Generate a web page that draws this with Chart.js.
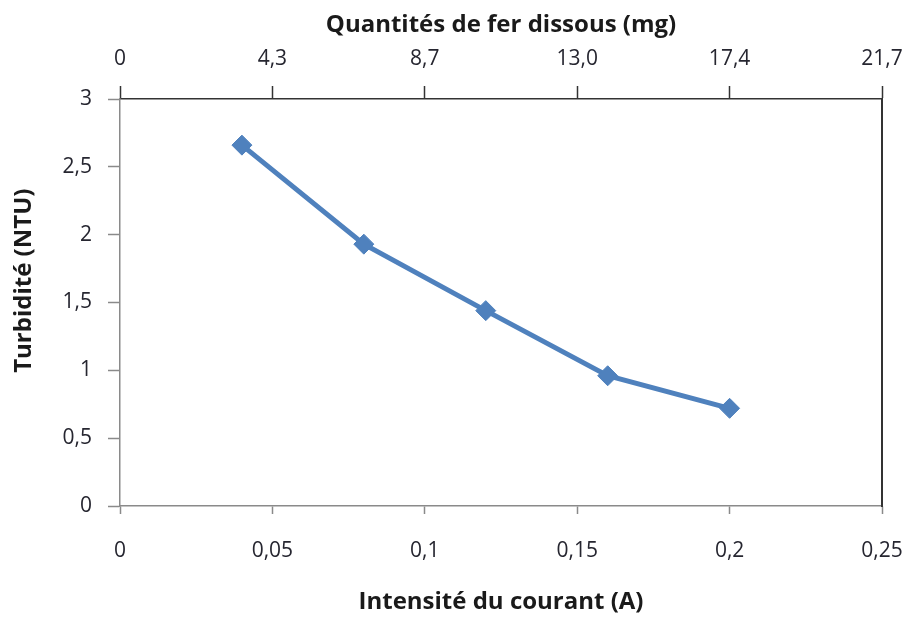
<!DOCTYPE html>
<html>
<head>
<meta charset="utf-8">
<script src="https://cdn.jsdelivr.net/npm/chart.js@4.4.1/dist/chart.umd.min.js"></script>
<style>
  html, body { margin: 0; padding: 0; background: #ffffff; }
  #wrap { width: 910px; height: 617px; }
</style>
</head>
<body>
<div id="wrap"><canvas id="c" width="910" height="617"></canvas></div>
<script>
// Current intensity (A) and measured turbidity (NTU)
const intensite = [0.04, 0.08, 0.12, 0.16, 0.20];
const turbidite = [2.66, 1.93, 1.44, 0.96, 0.72];
// Dissolved iron quantities shown on the top axis (mg)
const ferLabels = ['0', '4,3', '8,7', '13,0', '17,4', '21,7'];

const FONT = "'Open Sans', 'DejaVu Sans', sans-serif";
const TICK_COLOR = '#262630';
const TITLE_COLOR = '#1a1a1a';
const comma = v => String(Math.round(v * 1000) / 1000).replace('.', ',');

// Horizontal axes: fixed height and no extra side padding for edge labels
const fixHeight = h => s => { s.height = h; s.paddingLeft = 0; s.paddingRight = 0; };

new Chart(document.getElementById('c'), {
  type: 'scatter',
  data: {
    datasets: [{
      data: intensite.map((x, i) => ({ x: x, y: turbidite[i] })),
      showLine: true,
      borderColor: '#4F81BD',
      backgroundColor: '#4F81BD',
      borderWidth: 5,
      pointStyle: 'rectRot',
      pointRadius: 10,
      pointHoverRadius: 10,
      pointBorderWidth: 1,
      xAxisID: 'x',
      yAxisID: 'y'
    }]
  },
  options: {
    responsive: false,
    animation: false,
    layout: { padding: 0 },
    plugins: { legend: { display: false }, tooltip: { enabled: false } },
    scales: {
      x: {
        type: 'linear', position: 'bottom', min: 0, max: 0.25,
        afterFit: fixHeight(111),
        border: { color: '#8a8a8a', width: 1.5 },
        grid: { drawOnChartArea: false, drawTicks: true, tickLength: 8, tickColor: '#8a8a8a', tickWidth: 1.5 },
        ticks: { stepSize: 0.05, padding: 24, color: TICK_COLOR, font: { family: FONT, size: 21 },
                 callback: v => comma(v), maxRotation: 0 },
        title: { display: true, text: 'Intensité du courant (A)', color: TITLE_COLOR,
                 font: { family: FONT, size: 24, weight: 'bold' }, padding: { top: 0, bottom: 0 } }
      },
      x2: {
        type: 'linear', position: 'top', min: 0, max: 0.25,
        afterFit: fixHeight(99),
        border: { color: '#333333', width: 1.5 },
        grid: { drawOnChartArea: false, drawTicks: true, tickLength: 13, tickColor: '#333333', tickWidth: 1.5 },
        ticks: { stepSize: 0.05, padding: 14, color: TICK_COLOR, font: { family: FONT, size: 21 },
                 callback: (v, i) => ferLabels[i], maxRotation: 0 },
        title: { display: true, text: 'Quantités de fer dissous (mg)', color: TITLE_COLOR,
                 font: { family: FONT, size: 24, weight: 'bold' }, padding: { top: 11, bottom: 0 } }
      },
      y: {
        type: 'linear', position: 'left', min: 0, max: 3,
        afterFit: s => { s.width = 120; },
        border: { color: '#8a8a8a', width: 1.5 },
        grid: { drawOnChartArea: false, drawTicks: true, tickLength: 12, tickColor: '#8a8a8a', tickWidth: 1.5 },
        ticks: { stepSize: 0.5, padding: 16, color: TICK_COLOR, font: { family: FONT, size: 21 },
                 callback: v => comma(v) },
        title: { display: true, text: '       Turbidité (NTU)', color: TITLE_COLOR,
                 font: { family: FONT, size: 24, weight: 'bold' }, padding: { top: 10, bottom: 0 } }
      },
      y2: {
        type: 'linear', position: 'right', min: 0, max: 3,
        afterFit: s => { s.width = 28; },
        border: { color: '#333333', width: 2 },
        grid: { drawOnChartArea: false, drawTicks: false },
        ticks: { display: false }
      }
    }
  }
});
</script>
</body>
</html>
